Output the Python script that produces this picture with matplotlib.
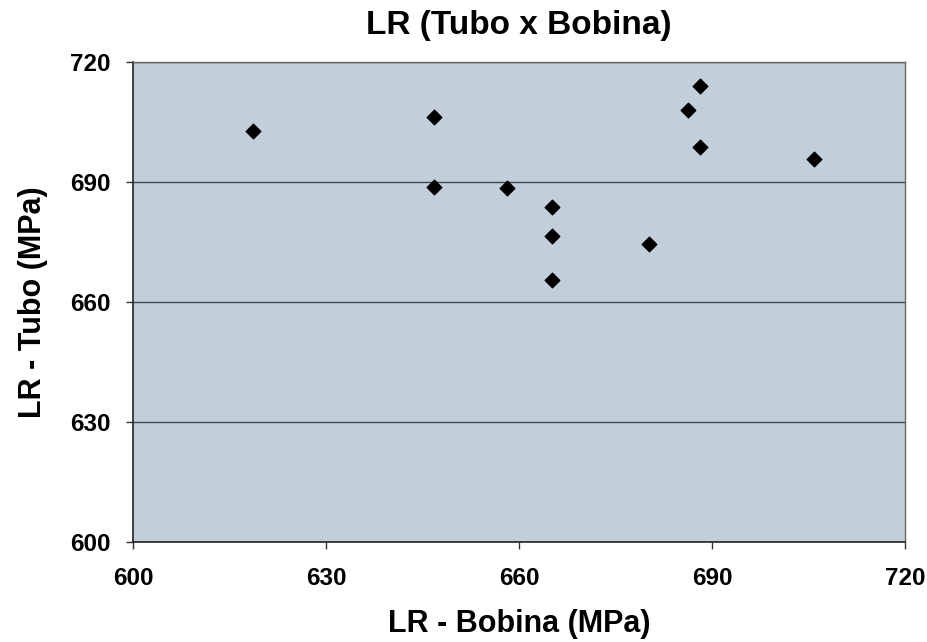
import matplotlib.pyplot as plt

# LR values (MPa)
lr_bobina = [618.7, 646.8, 646.8, 658.2, 665.2, 665.2, 665.2, 680.2, 686.2, 688.2, 688.2, 705.8]
lr_tubo = [702.8, 706.3, 688.8, 688.6, 683.8, 676.5, 665.5, 674.5, 708.0, 714.0, 698.8, 695.8]
ticks = [600, 630, 660, 690, 720]

plt.rcParams['font.family'] = ['Liberation Sans', 'DejaVu Sans']

fig = plt.figure(figsize=(9.28, 6.42), dpi=100)
ax = fig.add_axes([0.1433, 0.1558, 0.8320, 0.7476])
ax.set_facecolor('#C2CEDA')

ax.scatter(lr_bobina, lr_tubo, marker='D', s=55, color='black', zorder=3)

ax.set_xlim(600, 720)
ax.set_ylim(600, 720)
ax.set_xticks(ticks)
ax.set_yticks(ticks)
ax.tick_params(axis='both', labelsize=17.5, width=1, length=5, color='#333333')
for lab in ax.get_xticklabels() + ax.get_yticklabels():
    lab.set_fontweight('bold')
ax.tick_params(axis='x', pad=13)
ax.tick_params(axis='y', pad=11)

# horizontal grid only
ax.grid(True, axis='y', color='#3a4a55', linewidth=1)
ax.set_axisbelow(True)

for side in ['left', 'bottom']:
    ax.spines[side].set_color('#222222')
    ax.spines[side].set_linewidth(1.2)
for side in ['top', 'right']:
    ax.spines[side].set_color('#666666')
    ax.spines[side].set_linewidth(1)

ax.set_title("LR (Tubo x Bobina)", fontsize=24, fontweight='bold', pad=20)
ax.set_xlabel("LR - Bobina (MPa)", fontsize=22, fontweight='bold', labelpad=14)
ax.set_ylabel("LR - Tubo (MPa)", fontsize=22, fontweight='bold', labelpad=16)

fig.savefig('out.png', dpi=100)
